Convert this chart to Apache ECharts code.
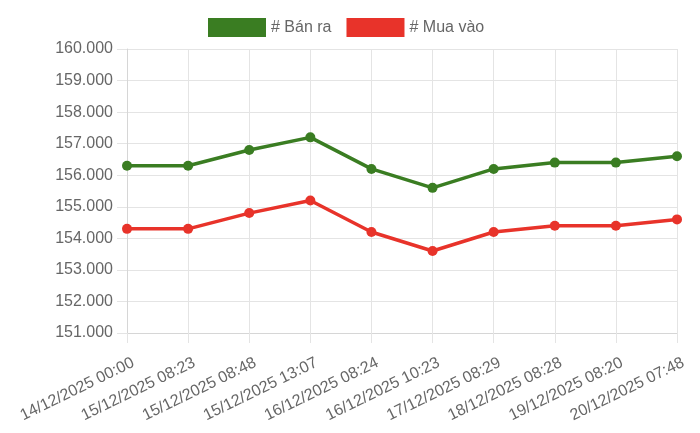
<!DOCTYPE html>
<html>
<head>
<meta charset="utf-8">
<script src="https://cdn.jsdelivr.net/npm/echarts@6/dist/echarts.min.js"></script>
<style>
html,body{margin:0;padding:0;background:#fff;}
#c{width:700px;height:433px;}
</style>
</head>
<body>
<div id="c"></div>
<script>
const categories = ["14/12/2025 00:00","15/12/2025 08:23","15/12/2025 08:48","15/12/2025 13:07","16/12/2025 08:24","16/12/2025 10:23","17/12/2025 08:29","18/12/2025 08:28","19/12/2025 08:20","20/12/2025 07:48"];
const banRa = [156300,156300,156800,157200,156200,155600,156200,156400,156400,156600];
const muaVao = [154300,154300,154800,155200,154200,153600,154200,154400,154400,154600];
const seriesNames = ["# Bán ra","# Mua vào"];
const yMin = 151000, yMax = 160000, yStep = 1000;

const fmt = v => String(v).replace(/\B(?=(\d{3})+(?!\d))/g, '.');
const FONT = "'Liberation Sans', Arial, Helvetica, sans-serif";
const green = '#3a7d22', red = '#e8332a';
const chart = echarts.init(document.getElementById('c'), null, {renderer:'canvas'});
chart.setOption({
  animation:false,
  textStyle:{fontFamily:FONT},
  legend:{
    top:18, left:208, icon:'rect', itemWidth:58, itemHeight:19, itemGap:15, padding:0,
    textStyle:{fontSize:16, color:'#666', fontFamily:FONT},
    data:seriesNames
  },
  grid:{left:127, right:23, top:49, bottom:100, containLabel:false},
  xAxis:{
    type:'category', data:categories, boundaryGap:false,
    axisLine:{lineStyle:{color:'#d6d6d6'}},
    axisTick:{show:true, length:10, lineStyle:{color:'#e4e4e4'}},
    splitLine:{show:true, lineStyle:{color:'#e4e4e4'}},
    axisLabel:{rotate:26, fontSize:16, color:'#666', margin:23, verticalAlign:'top',
               padding:[0,-3,0,0], fontFamily:FONT, interval:0}
  },
  yAxis:{
    type:'value', min:yMin, max:yMax, interval:yStep,
    axisLine:{show:true, lineStyle:{color:'#d6d6d6'}},
    axisTick:{show:true, length:10, lineStyle:{color:'#e4e4e4'}},
    splitLine:{show:true, lineStyle:{color:'#e4e4e4'}},
    axisLabel:{fontSize:16, color:'#666', margin:14, formatter:fmt, fontFamily:FONT}
  },
  series:[
    {name:seriesNames[0], type:'line', data:banRa, symbol:'circle', symbolSize:10,
     lineStyle:{width:3.5, color:green}, itemStyle:{color:green}},
    {name:seriesNames[1], type:'line', data:muaVao, symbol:'circle', symbolSize:10,
     lineStyle:{width:3.5, color:red}, itemStyle:{color:red}}
  ]
});
</script>
</body>
</html>
